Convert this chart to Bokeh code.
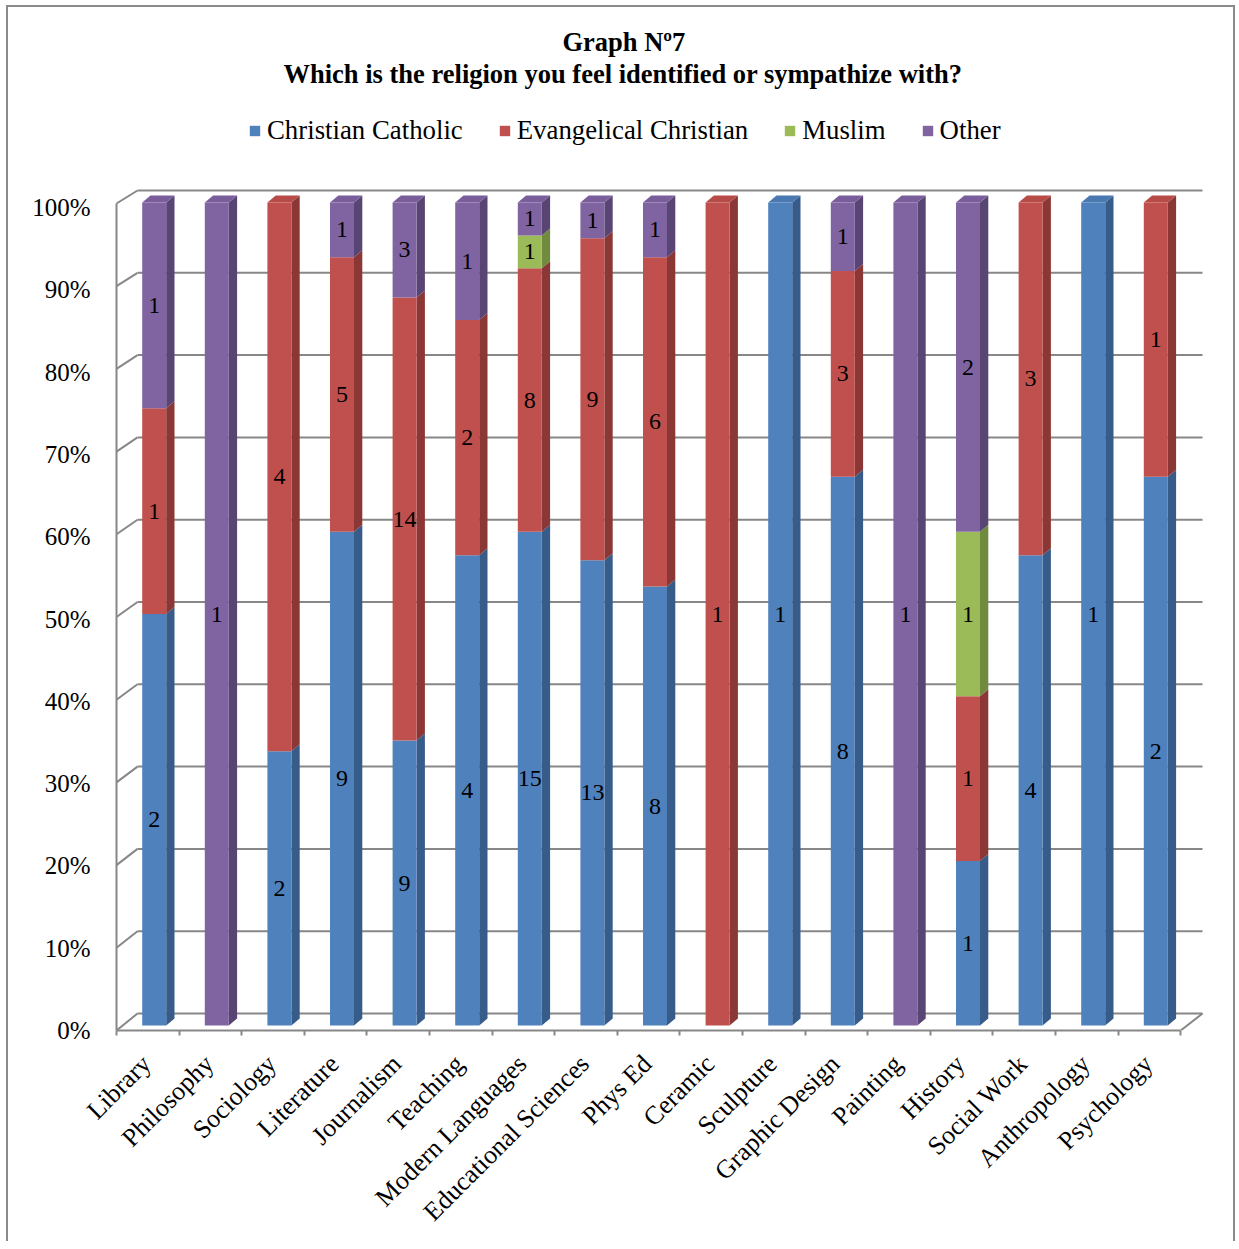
import math

from bokeh.plotting import figure
from bokeh.models import (Range1d, LinearAxis, FixedTicker, PrintfTickFormatter,
                          Legend, LegendItem, Title, ColumnDataSource)
from bokeh.embed import file_html
from bokeh.resources import INLINE
from bokeh.core.properties import value

# ---------------------------------------------------------------- data
categories = ["Library", "Philosophy", "Sociology", "Literature", "Journalism",
              "Teaching", "Modern Languages", "Educational Sciences", "Phys Ed",
              "Ceramic", "Sculpture", "Graphic Design", "Painting", "History",
              "Social Work", "Anthropology", "Psychology"]
catholic    = [2, 0, 2, 9, 9, 4, 15, 13, 8, 0, 1, 8, 0, 1, 4, 1, 2]
evangelical = [1, 0, 4, 5, 14, 2, 8, 9, 6, 1, 0, 3, 0, 1, 3, 0, 1]
muslim      = [0, 0, 0, 0, 0, 0, 1, 0, 0, 0, 0, 0, 0, 1, 0, 0, 0]
other       = [1, 1, 0, 1, 3, 1, 1, 1, 1, 0, 0, 1, 1, 2, 0, 0, 0]
series_names = ["Christian Catholic", "Evangelical Christian", "Muslim", "Other"]
pct_ticks = [0, 10, 20, 30, 40, 50, 60, 70, 80, 90, 100]

# ---------------------------------------------------------------- style
front_colors = ["#4F81BD", "#C0504D", "#9BBB59", "#8064A2"]
side_colors  = ["#375C89", "#8B3735", "#708A3E", "#584574"]
top_colors   = ["#4A79B2", "#B64B48", "#93B254", "#7A5E9B"]
GRID = "#878787"
FONT = "Liberation Serif"

# ---------------------------------------------------------------- page geometry (page pixels)
ORIGIN_X, ORIGIN_Y = 8, 7            # canvas origin inside the bordered box
FIG_W, FIG_H = 1229, 1236
FRAME_L, FRAME_R, FRAME_T, FRAME_B = 100, 1215, 100, 1030
CAT0_PX, CAT_PX = 146.0, 62.6        # first category label anchor, category pitch
BAR_ZERO_PX, PCT_PX = 1025.0, 8.23   # 0 % on the bar plane, pixels per percent


def xd(px):
    return (px - CAT0_PX) / CAT_PX


def yd(py):
    return (BAR_ZERO_PX - py) / PCT_PX


# walls of the 3-D box
FRONT_L = xd(116)
FRONT_R = FRONT_L + len(categories)
BACK_L = xd(137)
BACK_R = xd(1202)


def front_y(v):
    return yd(1030 - v * 8.27)


def back_y(v):
    return yd(1013 - v * 8.23)


# bar prism
BAR_OFF = 7.7 / CAT_PX
BAR_HALF = 12.0 / CAT_PX
DEPTH_X = 8.3 / CAT_PX
DEPTH_Y = 7.0 / PCT_PX

p = figure(width=FIG_W, height=FIG_H,
           x_range=Range1d(xd(FRAME_L), xd(FRAME_R)),
           y_range=Range1d(yd(FRAME_B), yd(FRAME_T)),
           title="Graph Nº7", title_location="above",
           y_axis_location=None, output_backend="svg", toolbar_location=None,
           min_border_left=FRAME_L - ORIGIN_X,
           min_border_right=FIG_W - (FRAME_R - ORIGIN_X),
           min_border_top=FRAME_T - ORIGIN_Y,
           min_border_bottom=FIG_H - (FRAME_B - ORIGIN_Y))
p.styles = {"border": "2px solid #8a8a8a", "border-bottom": "none",
            "margin": "5px 0 0 6px"}
p.outline_line_color = None
p.grid.visible = False
p.background_fill_color = "white"
p.border_fill_color = "white"

# ---------------------------------------------------------------- walls and gridlines
gx0, gy0, gx1, gy1 = [], [], [], []
for v in pct_ticks:
    gx0 += [BACK_L, FRONT_L]
    gy0 += [back_y(v), front_y(v)]
    gx1 += [BACK_R, BACK_L]
    gy1 += [back_y(v), back_y(v)]
# left wall edge and right floor edge
gx0 += [FRONT_L, FRONT_R]
gy0 += [front_y(0), front_y(0)]
gx1 += [FRONT_L, BACK_R]
gy1 += [front_y(100), back_y(0)]
p.segment(x0=gx0, y0=gy0, x1=gx1, y1=gy1, line_color=GRID, line_width=2)

# ---------------------------------------------------------------- stacked 3-D bars
series = [catholic, evangelical, muslim, other]
totals = [sum(s[i] for s in series) for i in range(len(categories))]

front = [dict(left=[], right=[], bottom=[], top=[]) for _ in series]
side_xs, side_ys, side_c = [], [], []
top_xs, top_ys, top_c = [], [], []
lab_x, lab_y, lab_t = [], [], []

for i, cat in enumerate(categories):
    cum = 0
    xc = i + BAR_OFF
    xl, xr = xc - BAR_HALF, xc + BAR_HALF
    for k, s in enumerate(series):
        n = s[i]
        if n == 0:
            continue
        yb = cum / totals[i] * 100
        cum += n
        yt = cum / totals[i] * 100
        f = front[k]
        f["left"].append(xl)
        f["right"].append(xr)
        f["bottom"].append(yb)
        f["top"].append(yt)
        side_xs.append([xr, xr + DEPTH_X, xr + DEPTH_X, xr])
        side_ys.append([yb, yb + DEPTH_Y, yt + DEPTH_Y, yt])
        side_c.append(side_colors[k])
        if cum == totals[i]:
            top_xs.append([xl, xl + DEPTH_X, xr + DEPTH_X, xr])
            top_ys.append([yt, yt + DEPTH_Y, yt + DEPTH_Y, yt])
            top_c.append(top_colors[k])
        lab_x.append(xc)
        lab_y.append((yb + yt) / 2)
        lab_t.append(str(n))

p.patches(xs=side_xs, ys=side_ys, fill_color=side_c, line_color=None)
p.patches(xs=top_xs, ys=top_ys, fill_color=top_c, line_color=None)

legend_items = []
for k, name in enumerate(series_names):
    r = p.quad(source=ColumnDataSource(front[k]), left="left", right="right",
               bottom="bottom", top="top", fill_color=front_colors[k], line_color=None)
    legend_items.append(LegendItem(label=name, renderers=[r]))

p.text(x=lab_x, y=lab_y, text=lab_t, text_font=value(FONT), text_font_size="24px",
       text_align="center", text_baseline="middle", text_color="black")

# ---------------------------------------------------------------- axes
xa = p.xaxis[0]
xa.ticker = FixedTicker(ticks=list(range(len(categories))),
                        minor_ticks=[FRONT_L + i for i in range(len(categories) + 1)])
xa.major_label_overrides = {i: c for i, c in enumerate(categories)}
xa.major_label_orientation = math.pi / 4
xa.bounds = (FRONT_L, FRONT_R)
xa.axis_line_color = GRID
xa.axis_line_width = 2
xa.major_tick_line_color = None
xa.major_tick_out = 0
xa.minor_tick_line_color = GRID
xa.minor_tick_line_width = 2
xa.minor_tick_in = 0
xa.minor_tick_out = 5
xa.major_label_standoff = 24
xa.major_label_text_font = FONT
xa.major_label_text_font_size = "26px"
xa.major_label_text_color = "black"

p.extra_y_ranges = {"pct": Range1d(0, (1030 - FRAME_T) / PCT_PX)}
ya = LinearAxis(y_range_name="pct", ticker=FixedTicker(ticks=pct_ticks),
                formatter=PrintfTickFormatter(format="%d%%"))
ya.axis_line_color = None
ya.major_tick_line_color = None
ya.minor_tick_line_color = None
ya.major_tick_out = 0
ya.major_label_standoff = 10
ya.major_label_text_font = FONT
ya.major_label_text_font_size = "25px"
ya.major_label_text_color = "black"
p.add_layout(ya, "left")

# ---------------------------------------------------------------- legend (inside the frame, above the box)
legend = Legend(items=legend_items, orientation="horizontal",
                location=(248 - FRAME_L, FRAME_B - 146),
                glyph_width=13, glyph_height=13,
                label_standoff=6, spacing=35, padding=5, margin=0,
                label_text_font=FONT, label_text_font_size="26.8px",
                label_text_color="black",
                border_line_color=None, background_fill_alpha=0)
p.add_layout(legend)

# ---------------------------------------------------------------- titles
sub = Title(text="Which is the religion you feel identified or sympathize with?",
            align="left", offset=283 - FRAME_L, standoff=24,
            text_font=FONT, text_font_size="26.5px",
            text_font_style="bold", text_color="black")
p.add_layout(sub, "above")

p.title.align = "left"
p.title.offset = 562 - FRAME_L
p.title.standoff = -24
p.title.text_font = FONT
p.title.text_font_size = "26.5px"
p.title.text_font_style = "bold"
p.title.text_color = "black"

open("out.html", "w").write(file_html(p, INLINE))
